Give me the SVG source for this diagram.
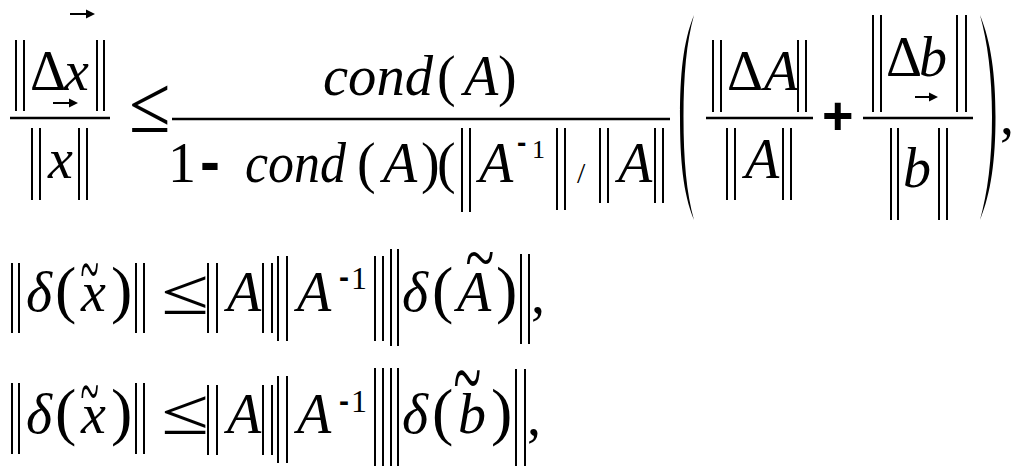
<svg xmlns="http://www.w3.org/2000/svg" width="1024" height="476" viewBox="0 0 1024 476">
<style>
text { font-family: "Liberation Serif", "Times New Roman", serif; fill: #000; }
.v { font-style: italic; font-size: 56px; }
.u { font-size: 56px; }
.p { font-size: 64px; }
.s { font-family: "Liberation Sans", Arial, sans-serif; font-weight: bold; }
.t { font-size: 40px; }
.le { font-size: 60px; }
.h60 { font-size: 60px; }
.h54 { font-size: 54px; }
.h28 { font-size: 28px; }
.h30 { font-size: 30px; }
.o1 { font-size: 26px; }
.o2 { font-size: 32px; }
.sl { font-size: 30px; }
.bar { stroke: #000; stroke-width: 2; fill: none; }
.fr { stroke: #000; stroke-width: 2.5; fill: none; }
</style>
<rect width="1024" height="476" fill="#fff"/>

<g id="eq1">
  <g id="lhs1">
    <path class="bar" d="M16 40V111M24 40V111M97 40V111M104 40V111"/>
    <text class="u" x="30" y="90">Δ</text>
    <text class="v" x="64" y="90">x</text>
    <path class="bar" d="M70 14H88M53 103H71"/>
    <polygon points="86,9.5 95,14 86,18.5"/>
    <polygon points="69,98.5 78,103 69,107.5"/>
    <path class="fr" d="M10 118H110"/>
    <path class="bar" d="M32 128V200M40 128V200M79 128V200M87 128V200"/>
    <text class="v" x="48" y="178">x</text>
  </g>
  <text class="le" x="0" y="0" transform="translate(129,132) scale(1.26,1.35)">≤</text>
  <g id="main1">
    <text class="v" x="323" y="95" textLength="110" lengthAdjust="spacingAndGlyphs">cond</text>
    <text class="u" x="437" y="95">(</text>
    <text class="v" x="464" y="95">A</text>
    <text class="u" x="498" y="95">)</text>
    <path class="fr" d="M172 119H670"/>
    <text class="u" x="168" y="182">1</text>
    <text class="s h60" x="200" y="182">-</text>
    <text class="v" x="245" y="182" textLength="101" lengthAdjust="spacingAndGlyphs">cond</text>
    <text class="u" x="357" y="182">(</text>
    <text class="v" x="383" y="182">A</text>
    <text class="u" x="421" y="182">)</text>
    <text class="u" x="437" y="182">(</text>
    <path class="bar" d="M462 128V212M470 128V212"/>
    <text class="v" x="479" y="182">A</text>
    <text class="s h28" x="517" y="152">-</text>
    <text class="o1" x="532" y="158">1</text>
    <path class="bar" d="M557 128V210M565 128V210"/>
    <text class="sl" x="577" y="183">/</text>
    <path class="bar" d="M600 128V203M608 128V203"/>
    <text class="v" x="618" y="182">A</text>
    <path class="bar" d="M655 128V203M663 128V203"/>
  </g>
  <path d="M694 15C683 42 680 75 680 117C680 160 683 193 694 220C686.5 193 683.5 160 683.5 117C683.5 75 686.5 42 694 15Z"/>
  <g id="frac2">
    <path class="bar" d="M713 40V112M721 40V112M798 40V112M806 40V112"/>
    <text class="u" x="727" y="90">Δ</text>
    <text class="v" x="764" y="90">A</text>
    <path class="fr" d="M706 118H813"/>
    <path class="bar" d="M727 128V200M735 128V200M783 128V200M791 128V200"/>
    <text class="v" x="745" y="178">A</text>
  </g>
  <text class="s h54" x="822" y="134">+</text>
  <g id="frac3">
    <path class="bar" d="M873 15V112M881 15V112M957 15V112M966 15V112"/>
    <text class="u" x="886" y="76">Δ</text>
    <text class="v" x="919" y="76">b</text>
    <path class="bar" d="M915 97H931"/>
    <polygon points="929,92.5 938,97 929,101.5"/>
    <path class="fr" d="M863 118H973"/>
    <path class="bar" d="M891 128V220M898 128V220M939 128V220M947 128V220"/>
    <text class="v" x="903" y="187">b</text>
  </g>
  <path d="M980 15C991 42 995.5 75 995.5 117C995.5 160 991 193 980 220C987.5 193 992 160 992 117C992 75 987.5 42 980 15Z"/>
  <text class="u" x="1000" y="134">,</text>
</g>

<g id="eq2">
  <path class="bar" d="M12 263V333M19 263V333"/>
  <text class="v" x="26" y="311">δ</text>
  <text class="p" x="55" y="311">(</text>
  <text class="v" x="81" y="311">x</text>
  <text class="t" x="0" y="0" transform="translate(80.5,293.6) scale(0.85,1.85)">~</text>
  <text class="p" x="111" y="311">)</text>
  <path class="bar" d="M136 263V333M144 263V333"/>
  <text class="le" x="0" y="0" transform="translate(161,314) scale(1.45,1.1)">≤</text>
  <path class="bar" d="M208 263V333M217 263V333"/>
  <text class="v" x="227" y="311">A</text>
  <path class="bar" d="M263 263V333M272 263V333M278 256V341M287 256V341"/>
  <text class="v" x="297" y="311">A</text>
  <text class="s h30" x="339" y="287">-</text>
  <text class="o2" x="351" y="289">1</text>
  <path class="bar" d="M375 256V341M383 256V341M391 249V346M398 249V346"/>
  <text class="v" x="402" y="311">δ</text>
  <text class="p" x="432" y="311">(</text>
  <text class="v" x="457" y="311">A</text>
  <text class="t" x="0" y="0" transform="translate(465.5,281.6) scale(1.33,1.79)">~</text>
  <text class="p" x="496" y="311">)</text>
  <path class="bar" d="M521 254V344M529 254V344"/>
  <text class="u" x="531" y="313">,</text>
</g>

<g id="eq3">
  <path class="bar" d="M12 383V454M19 383V454"/>
  <text class="v" x="26" y="433">δ</text>
  <text class="p" x="55" y="433">(</text>
  <text class="v" x="81" y="433">x</text>
  <text class="t" x="0" y="0" transform="translate(80.5,415.6) scale(0.85,1.85)">~</text>
  <text class="p" x="111" y="433">)</text>
  <path class="bar" d="M136 383V454M144 383V454"/>
  <text class="le" x="0" y="0" transform="translate(161,434) scale(1.45,1.1)">≤</text>
  <path class="bar" d="M208 385V455M217 385V455"/>
  <text class="v" x="227" y="433">A</text>
  <path class="bar" d="M263 385V455M272 385V455M278 376V463M287 376V463"/>
  <text class="v" x="297" y="433">A</text>
  <text class="s h30" x="339" y="411">-</text>
  <text class="o2" x="351" y="412">1</text>
  <path class="bar" d="M375 368V466M383 368V466M391 368V466M398 368V466"/>
  <text class="v" x="402" y="433">δ</text>
  <text class="p" x="432" y="433">(</text>
  <text class="v" x="458" y="433">b</text>
  <text class="t" x="0" y="0" transform="translate(453.6,409) scale(1.28,2.32)">~</text>
  <text class="p" x="491" y="433">)</text>
  <path class="bar" d="M516 369V466M525 369V466"/>
  <text class="u" x="527" y="435">,</text>
</g>
</svg>
